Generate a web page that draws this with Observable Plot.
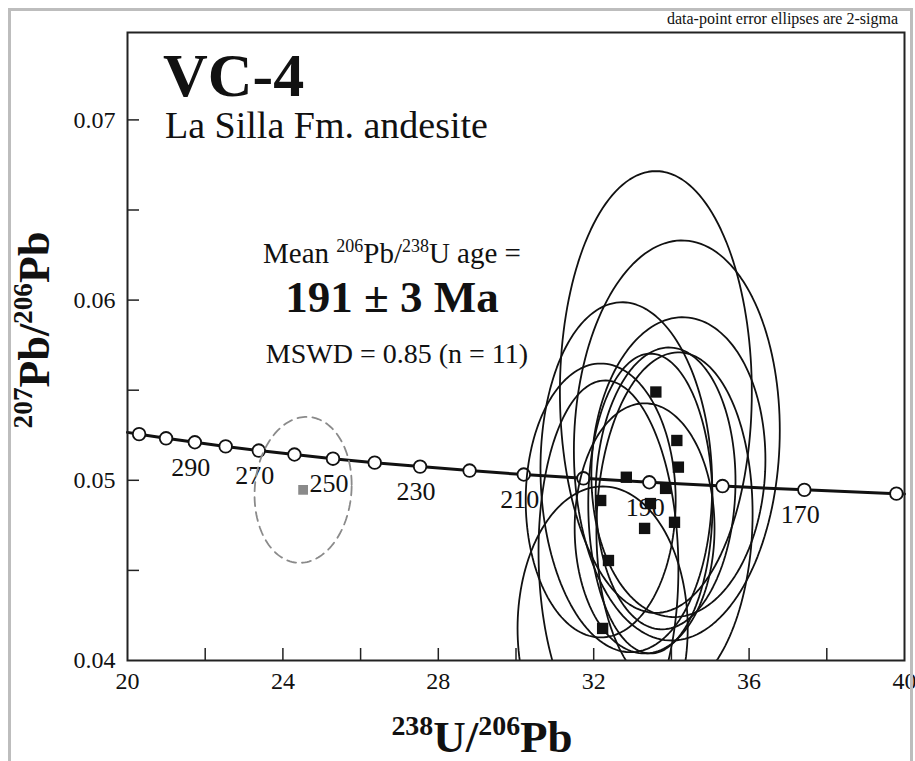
<!DOCTYPE html>
<html>
<head>
<meta charset="utf-8">
<script src="https://cdn.jsdelivr.net/npm/d3@7"></script>
<script src="https://cdn.jsdelivr.net/npm/@observablehq/plot@0.6"></script>
<style>
  html, body { margin: 0; padding: 0; background: #fff; }
  #wrap { position: relative; width: 915px; height: 761px; overflow: hidden; }
  #border { position: absolute; left: 8px; top: 8px; width: 905px; height: 770px;
            border: 3px solid #bdbdbd; box-sizing: border-box; pointer-events: none; }
</style>
</head>
<body>
<div id="wrap"><div id="border"></div></div>
<script>
// ---- axis ticks ----
const xTicks = [22, 24, 26, 28, 30, 32, 34, 36, 38];
const xLabels = [20, 24, 28, 32, 36, 40];
const yTicks = [0.045, 0.05, 0.055, 0.06, 0.065, 0.07];
const yLabels = [0.04, 0.05, 0.06, 0.07];

// ---- concordia (Tera-Wasserburg) age marks, Ma ----
const concAge = [310, 300, 290, 280, 270, 260, 250, 240, 230, 220, 210, 200, 190, 180, 170, 160];
const concX = [20.299, 20.992, 21.733, 22.527, 23.379, 24.297, 25.289, 26.363, 27.531, 28.805, 30.200, 31.735, 33.431, 35.316, 37.422, 39.792];
const concY = [0.05256, 0.05233, 0.05211, 0.05188, 0.05165, 0.05143, 0.05120, 0.05098, 0.05076, 0.05054, 0.05032, 0.05011, 0.04989, 0.04968, 0.04947, 0.04926];
const labeledAges = [290, 270, 250, 230, 210, 190, 170];
// where the concordia meets the frame edges
const concEdgeX = [20, 40];
const concEdgeY = [0.05266, 0.04924];

// ---- analyses (2-sigma error ellipses) ----
const ptX   = [33.60, 34.14, 34.18, 32.84, 33.85, 32.18, 33.46, 34.08, 33.31, 32.38, 32.23];
const ptY   = [0.05490, 0.05221, 0.05073, 0.05017, 0.04955, 0.04888, 0.04871, 0.04767, 0.04733, 0.04555, 0.04178];
const errX  = [2.47, 2.65, 2.24, 2.21, 1.80, 1.93, 1.60, 2.01, 1.80, 1.80, 2.19];
const errY  = [0.01226, 0.01110, 0.00832, 0.00971, 0.00782, 0.00760, 0.00832, 0.00943, 0.00694, 0.00999, 0.00788];
const rho   = [0.0, 0.05, 0.05, -0.05, 0.05, 0.0, 0.0, 0.05, 0.0, -0.05, 0.0];

// ---- rejected analysis (grey, dashed) ----
const rejX = [24.52];
const rejY = [0.04947];
const rejErrX = [1.25];
const rejErrY = [0.00405];
const rejRho = [0.07];

// ---- build tables ----
const circles = concAge.map((a, i) => ({age: a, x: concX[i], y: concY[i]}));
const concLine = [{x: concEdgeX[0], y: concEdgeY[0]}, ...circles, {x: concEdgeX[1], y: concEdgeY[1]}];
const ageLabels = circles.filter(d => labeledAges.includes(d.age));
const points = ptX.map((x, i) => ({x, y: ptY[i]}));
const rejPoints = rejX.map((x, i) => ({x, y: rejY[i]}));

function ellipsePath(cx, cy, sx, sy, r, id) {
  const N = 160, out = [];
  const q = Math.sqrt(1 - r * r);
  for (let k = 0; k <= N; k++) {
    const t = 2 * Math.PI * k / N;
    out.push({id, x: cx + sx * Math.cos(t), y: cy + sy * (r * Math.cos(t) + q * Math.sin(t))});
  }
  return out;
}
const ellData = ptX.flatMap((x, i) => ellipsePath(x, ptY[i], errX[i], errY[i], rho[i], i));
const rejEll = rejX.flatMap((x, i) => ellipsePath(x, rejY[i], rejErrX[i], rejErrY[i], rejRho[i], "r" + i));

const W = 915, H = 761, ML = 127, MR = 11, MT = 32, MB = 101;
const frameW = W - ML - MR, frameH = H - MT - MB, tickLen = 12;
const ink = "#111";

const chart = Plot.plot({
  width: W, height: H,
  marginLeft: ML, marginRight: MR, marginTop: MT, marginBottom: MB,
  x: {domain: [20, 40], label: null},
  y: {domain: [0.04, 0.07485], label: null},
  style: {fontFamily: "'Liberation Serif', 'Times New Roman', serif", background: "transparent", color: ink},
  marks: [
    Plot.line(concLine, {x: "x", y: "y", stroke: ink, strokeWidth: 3}),
    Plot.dot(circles, {x: "x", y: "y", r: 6.3, fill: "white", stroke: ink, strokeWidth: 1.8}),
    Plot.text(ageLabels, {x: "x", y: "y", text: d => String(d.age), dx: -4, dy: 25, fontSize: 26, fill: ink}),
    Plot.line(rejEll, {x: "x", y: "y", z: "id", stroke: "#8a8a8a", strokeWidth: 1.8, strokeDasharray: "9,6", clip: true}),
    Plot.dot(rejPoints, {x: "x", y: "y", symbol: "square", r: 5.5, fill: "#8a8a8a"}),
    Plot.line(ellData, {x: "x", y: "y", z: "id", stroke: ink, strokeWidth: 1.8, clip: true}),
    Plot.dot(points, {x: "x", y: "y", symbol: "square", r: 6.4, fill: ink}),
    Plot.ruleX(xTicks, {x: d => d, insetTop: frameH - tickLen, stroke: "#222", strokeWidth: 1.5}),
    Plot.ruleY(yTicks, {y: d => d, insetRight: frameW - tickLen, stroke: "#222", strokeWidth: 1.5}),
    Plot.axisX({ticks: xLabels, tickSize: 0, tickPadding: 11, fontSize: 24, tickFormat: d3.format("d"), label: null}),
    Plot.axisY({ticks: yLabels, tickSize: 0, tickPadding: 12, fontSize: 24, tickFormat: d3.format(".2f"), label: null}),
    Plot.frame({stroke: "#222", strokeWidth: 2})
  ]
});
chart.style.position = "absolute";
chart.style.left = "0px";
chart.style.top = "0px";
chart.style.overflow = "visible";
document.getElementById("wrap").prepend(chart);

// ---- annotations with superscripts ----
const svg = d3.select(chart);
const g = svg.append("g").attr("font-family", "'Liberation Serif', 'Times New Roman', serif").attr("fill", ink);
function rich(x, y, size, parts, {weight = "normal", anchor = "start", rotate = 0} = {}) {
  const t = g.append("text").attr("x", x).attr("y", y)
    .attr("font-size", size).attr("font-weight", weight).attr("text-anchor", anchor);
  if (rotate) t.attr("transform", `rotate(${rotate},${x},${y})`);
  let shifted = 0;
  for (const [s, sup] of parts) {
    const want = sup ? -size * 0.38 : 0;
    t.append("tspan").attr("dy", want - shifted).attr("font-size", sup ? size * 0.62 : size).text(s);
    shifted = want;
  }
  return t;
}
rich(898, 24, 16, [["data-point error ellipses are 2-sigma", 0]], {anchor: "end"});
rich(163, 96, 62, [["VC-4", 0]], {weight: "bold"});
rich(165, 138, 38, [["La Silla Fm. andesite", 0]]);
rich(392, 263, 29, [["Mean ", 0], ["206", 1], ["Pb/", 0], ["238", 1], ["U age =", 0]], {anchor: "middle"});
rich(392, 312, 45, [["191 ± 3 Ma", 0]], {weight: "bold", anchor: "middle"});
rich(397, 363, 28, [["MSWD = 0.85 (n = 11)", 0]], {anchor: "middle"});
rich(482, 752, 45, [["238", 1], ["U/", 0], ["206", 1], ["Pb", 0]], {weight: "bold", anchor: "middle"});
rich(49, 330, 44, [["207", 1], ["Pb/", 0], ["206", 1], ["Pb", 0]], {weight: "bold", anchor: "middle", rotate: -90});
</script>
</body>
</html>
